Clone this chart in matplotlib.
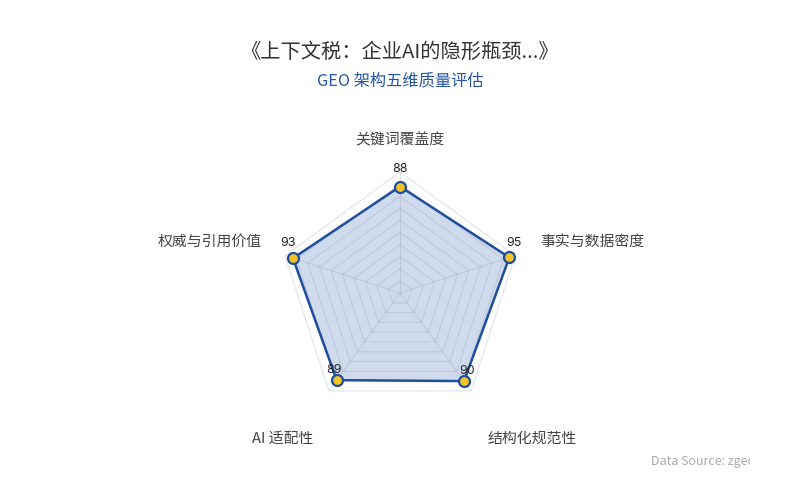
import matplotlib
matplotlib.use('Agg')
import matplotlib.pyplot as plt
import numpy as np
from matplotlib.transforms import Bbox

plt.rcParams['font.family'] = ['Noto Sans CJK SC', 'DejaVu Sans']

# data
categories = ['关键词覆盖度', '事实与数据密度', '结构化规范性', 'AI 适配性', '权威与引用价值']
scores = [88, 95, 90, 89, 93]
max_score = 100
title = '《上下文税：企业AI的隐形瓶颈...》'
subtitle = 'GEO 架构五维质量评估'
source = 'Data Source: zgeo.ai'

n = len(categories)
# start at the top, go clockwise
angles = np.pi / 2 - np.arange(n) * 2 * np.pi / n

fig = plt.figure(figsize=(8, 5), dpi=100)
fig.patch.set_facecolor('white')

# center (400, 293) px, radius 121 px
cx, cy, rad = 400 / 800, 1 - 293 / 500, 121
ax = fig.add_axes([cx - rad / 800, cy - rad / 500, 2 * rad / 800, 2 * rad / 500], projection='polar')
ax.set_ylim(0, max_score)
ax.set_axis_off()

# split rings
ring_levels = np.arange(10, max_score + 1, 10)
a_closed = np.append(angles, angles[0])
for lv in ring_levels:
    ax.plot(a_closed, [lv] * (n + 1), color='#8e9cb6', alpha=0.28, lw=0.8, zorder=3)
for a in angles:
    ax.plot([a, a], [0, max_score], color='#8e9cb6', alpha=0.28, lw=0.8, zorder=3)

# data polygon
vals = np.append(scores, scores[0])
ax.fill(a_closed, vals, color='#3d67b4', alpha=0.24, lw=0, zorder=2)
ax.plot(a_closed, vals, color='#1f4e9e', lw=1.8, zorder=4)
ax.scatter(angles, scores, s=62, color='#f5c427', edgecolors='#1f4e9e', linewidths=1.6, zorder=5, clip_on=False)

px = 0.72  # points per pixel at dpi 100

# value labels
for a, v in zip(angles, scores):
    dx = 5 * np.cos(a)
    dy = 13.5 + 4.5 * np.sin(a)
    ax.annotate(str(v), (a, v), xytext=(dx * px, dy * px), textcoords='offset points',
                ha='center', va='center', fontsize=9, color='#222222', zorder=6,
                family=['Inter', 'DejaVu Sans'])

# axis names (offsets in px from the outer ring vertex)
offsets = [(0, 25), (25, 14), (16, -41), (-16, -41), (-23, 14)]
aligns = [('center', 'bottom'), ('left', 'center'), ('left', 'top'), ('right', 'top'), ('right', 'center')]
for a, lab, off, (ha, va) in zip(angles, categories, offsets, aligns):
    ax.annotate(lab, (a, max_score), xytext=(off[0] * px, off[1] * px), textcoords='offset points',
                ha=ha, va=va, fontsize=10.7, color='#444444', annotation_clip=False)

fig.text(0.5, 1 - 52 / 500, title, ha='center', va='center', fontsize=14.6, color='#333333')
fig.text(0.5, 1 - 81 / 500, subtitle, ha='center', va='center', fontsize=11.7, color='#2455a6')

t = fig.text(651 / 800, 1 - 462 / 500, source, ha='left', va='center', fontsize=9, color='#aaaaaa')
t.set_clip_box(Bbox.from_extents(0, 0, 750, 500))
t.set_clip_on(True)

fig.savefig('out.png', dpi=100, facecolor='white')
